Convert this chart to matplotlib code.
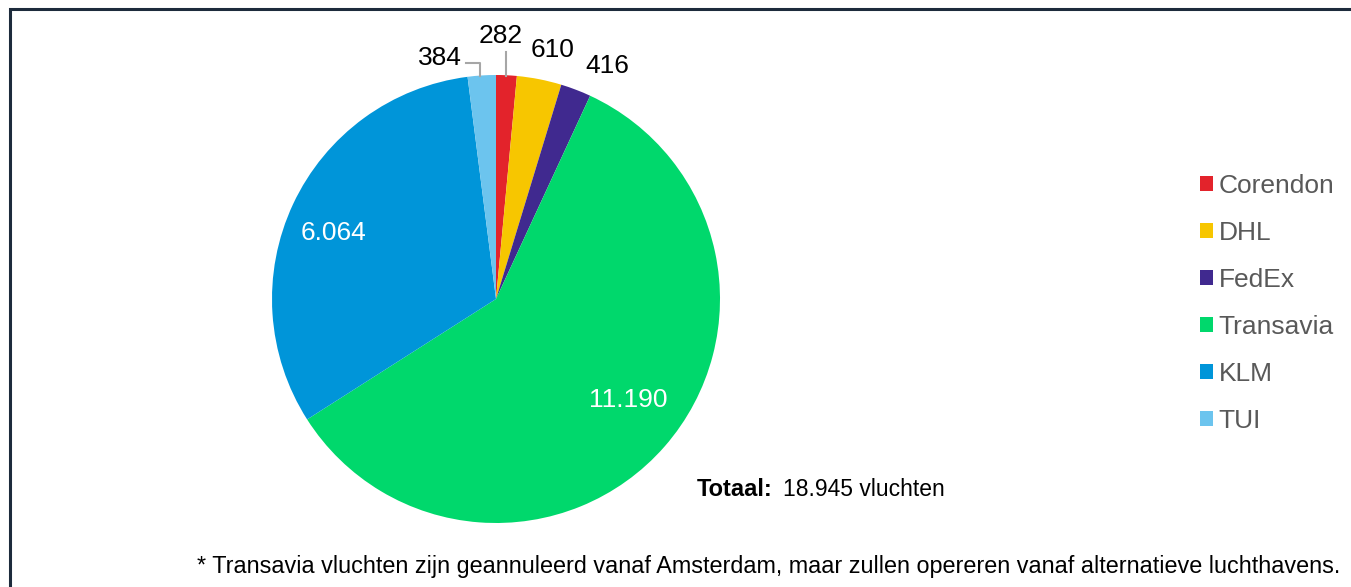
import matplotlib.pyplot as plt
from matplotlib.patches import Rectangle

plt.rcParams['font.family'] = ['Liberation Sans', 'DejaVu Sans']

airlines = ['Corendon', 'DHL', 'FedEx', 'Transavia', 'KLM', 'TUI']
flights = [282, 610, 416, 11190, 6064, 384]
value_labels = ['282', '610', '416', '11.190', '6.064', '384']
colors = ['#e3232b', '#f7c600', '#40298f', '#00d86c', '#0095d9', '#6cc4ee']
total_text = '18.945 vluchten'
footnote = ('* Transavia vluchten zijn geannuleerd vanaf Amsterdam, '
            'maar zullen opereren vanaf alternatieve luchthavens.')

W, H = 1351, 587
fig = plt.figure(figsize=(W / 100, H / 100), dpi=100)
ax = fig.add_axes([0, 0, 1, 1])

# pie in pixel coordinates
cx, cy, r = 496, H - 299, 224
wedges, _ = ax.pie(flights, colors=colors, startangle=90, counterclock=False,
                   center=(cx, cy), radius=r, frame=True,
                   wedgeprops=dict(linewidth=0))
ax.set_xlim(0, W)
ax.set_ylim(0, H)
ax.set_aspect('equal')
ax.axis('off')

# value labels (pixel positions of the label centres)
label_pos = [(501, 551), (553, 537), (607, 521), (628, 187), (333, 354), (440, 529)]
label_col = ['black', 'black', 'black', 'white', 'white', 'black']
for txt, (x, y), c in zip(value_labels, label_pos, label_col):
    ax.text(x, y, txt, ha='center', va='center', fontsize=19, color=c)

# leader lines
ax.plot([506, 506], [H - 52, H - 76], color='#a6a6a6', lw=1.5)
ax.plot([466, 480, 480], [H - 63, H - 63, H - 76], color='#a6a6a6', lw=1.5)

# legend
leg = ax.legend(wedges, airlines, loc='upper left', bbox_to_anchor=(1187 / W, 1 - 161 / H),
                frameon=False, fontsize=19, handlelength=0.5, handleheight=0.5,
                handletextpad=0.2, labelspacing=0.87, borderpad=0)
for t in leg.get_texts():
    t.set_color('#595959')

# totaal + footnote
ax.text(697, H - 490, 'Totaal:', fontsize=17, fontweight='bold', va='center')
ax.text(783, H - 490, total_text, fontsize=16.5, va='center')
ax.text(1340, H - 566, footnote, fontsize=16.85, ha='right', va='center')

# outer frame
ax.add_patch(Rectangle((9.5, -20), W + 20, H - 8.5 + 20, fill=False,
                       edgecolor='#1d2b3c', lw=2.2, clip_on=False))

fig.savefig('out.png', dpi=100)
